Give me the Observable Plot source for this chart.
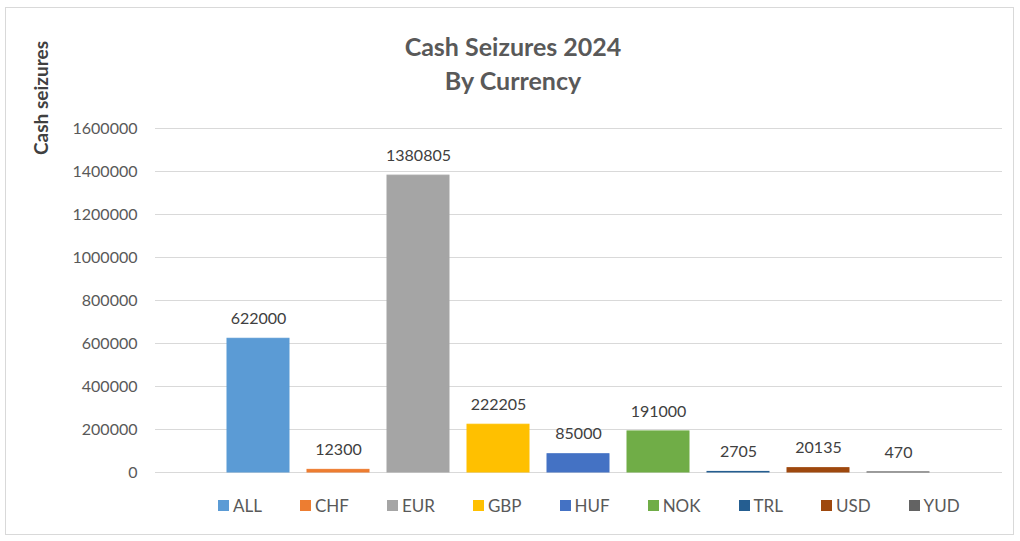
<!DOCTYPE html>
<html>
<head>
<meta charset="utf-8">
<script src="https://cdn.jsdelivr.net/npm/d3@7"></script>
<script src="https://cdn.jsdelivr.net/npm/@observablehq/plot@0.6"></script>
<style>
  html, body { margin: 0; padding: 0; background: #fff; }
  #wrap { position: relative; width: 1020px; height: 541px; overflow: hidden; font-family: Lato, "Open Sans", sans-serif; }
  #frame { position: absolute; left: 5px; top: 7px; width: 1009px; height: 528px; border: 1px solid #d9d9d9; box-sizing: border-box; }
  #title { position: absolute; left: 0; width: 1026px; top: 29px; text-align: center; font-weight: bold; font-size: 25px; line-height: 34px; color: #595959; }
  #ylabel { position: absolute; left: 40px; top: 98px; transform: translate(-50%, -50%) rotate(-90deg); font-weight: bold; font-size: 19px; color: #404040; white-space: nowrap; }
  #chart { position: absolute; left: 0; top: 0; }
  #legend { position: absolute; left: 218px; top: 489px; }
  #legend .lg-swatch { margin-right: 38px !important; }
  #legend .lg-swatch > svg { margin-right: 4px !important; }
</style>
</head>
<body>
<div id="wrap">
  <div id="frame"></div>
  <div id="chart"></div>
  <div id="title">Cash Seizures 2024<br>By Currency</div>
  <div id="ylabel">Cash seizures</div>
  <div id="legend"></div>
</div>
<script>
const currencies = ["ALL", "CHF", "EUR", "GBP", "HUF", "NOK", "TRL", "USD", "YUD"];
const seizures = [622000, 12300, 1380805, 222205, 85000, 191000, 2705, 20135, 470];
const colors = ["#5b9bd5", "#ed7d31", "#a5a5a5", "#ffc000", "#4472c4", "#70ad47", "#255e91", "#9e480e", "#636363"];
const yTicks = [0, 200000, 400000, 600000, 800000, 1000000, 1200000, 1400000, 1600000];

const data = currencies.map((c, i) => ({currency: c, value: seizures[i]}));

const plot = Plot.plot({
  width: 1020,
  height: 541,
  marginLeft: 155,
  marginRight: 18,
  marginTop: 128,
  marginBottom: 69,
  style: {fontFamily: "Lato, 'Open Sans', sans-serif", fontSize: "16px", color: "#595959", background: "transparent"},
  x: {domain: currencies, paddingInner: 0.22, paddingOuter: 0.87, axis: null},
  y: {domain: [0, 1600000], ticks: yTicks, tickFormat: d => String(d), tickSize: 0, tickPadding: 18, label: null},
  color: {domain: currencies, range: colors},
  marks: [
    Plot.ruleY(yTicks, {stroke: "#d9d9d9", strokeWidth: 1}),
    Plot.barY(data, {x: "currency", y: "value", fill: "currency", stroke: "currency", strokeWidth: 1}),
    Plot.text(data, {x: "currency", y: "value", text: d => String(d.value), dy: -20, fill: "#404040", fontSize: 16, lineAnchor: "middle"})
  ]
});
document.getElementById("chart").appendChild(plot);

const leg = Plot.legend({
  color: {domain: currencies, range: colors},
  legend: "swatches",
  swatchSize: 11,
  className: "lg",
  style: {fontFamily: "Lato, 'Open Sans', sans-serif", fontSize: "17px", color: "#595959"}
});
document.getElementById("legend").appendChild(leg);
</script>
</body>
</html>
